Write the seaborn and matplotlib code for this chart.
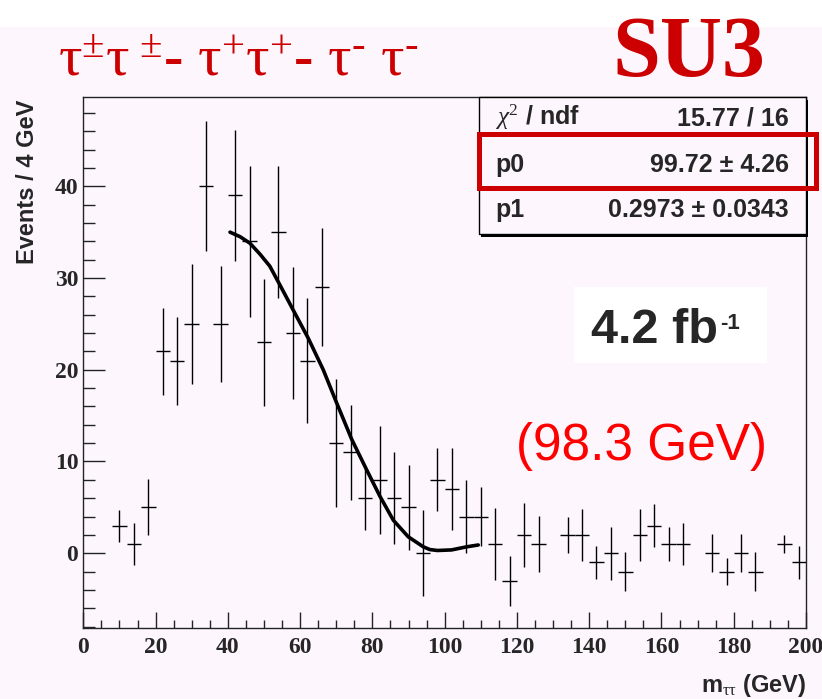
import numpy as np
import pandas as pd
import matplotlib
matplotlib.use("Agg")
import matplotlib.pyplot as plt
from matplotlib.patches import Rectangle
from matplotlib.text import Annotation
import seaborn as sns

# Binned di-tau invariant mass, 4 GeV bins (bin centres), with errors
bin_centers = [10, 14, 18, 22, 26, 30, 34, 38, 42, 46, 50, 54, 58, 62, 66, 70,
               74, 78, 82, 86, 90, 94, 98, 102, 106, 110, 114, 118, 122, 126,
               134, 138, 142, 146, 150, 154, 158, 162, 166, 174, 178, 182, 186,
               194, 198]
counts = [3, 1, 5, 22, 21, 25, 40, 25, 39, 34, 23, 35, 24, 21, 29, 12,
          11, 6, 8, 6, 5, 0, 8, 7, 4, 4, 1, -3, 2, 1,
          2, 2, -1, 0, -2, 2, 3, 1, 1, 0, -2, 0, -2,
          1, -1]
errors = [1.73, 2.3, 3.05, 4.7, 4.8, 6.5, 7.1, 6.3, 7.1, 8.2, 6.9, 7.2, 7.2, 6.8, 6.4, 7.0,
          5.2, 3.5, 5.9, 5.0, 4.6, 4.7, 3.45, 4.45, 4.0, 3.2, 3.9, 2.7, 3.45, 3.1,
          2.0, 2.85, 1.8, 2.9, 2.1, 2.85, 2.36, 1.87, 2.3, 2.1, 1.5, 2.1, 2.1,
          1.0, 1.8]
bin_half_width = 2.0

# Fitted endpoint curve
fit_x = [40.6, 43.4, 46.1, 48.9, 51.6, 54.2, 58.1, 62.3, 66.4, 70.1, 74.3,
         78.4, 82.1, 85.8, 89.9, 94.1, 95.9, 98.0, 101.9, 106.1, 109.3]
fit_y = [35.0, 34.5, 33.8, 32.6, 31.3, 29.4, 26.5, 23.4, 20.0, 16.4, 12.4,
         9.1, 6.2, 3.6, 1.8, 0.7, 0.4, 0.3, 0.36, 0.7, 0.9]

stat_labels = [r"$\chi^{2}$ / ndf", "p0", "p1"]
stat_values = ["15.77 / 16", "99.72 \u00b1 4.26", "0.2973 \u00b1 0.0343"]

x_ticks = list(range(0, 201, 20))
y_ticks = [0, 10, 20, 30, 40]

W, H = 822, 699
BG = "#fdf7fd"


def fx(px):
    return px / W


def fy(py):
    return 1 - py / H


sns.set_style("ticks")
plt.rcParams.update({
    "mathtext.fontset": "custom",
    "mathtext.rm": "Liberation Serif",
    "mathtext.it": "Liberation Serif:italic",
    "mathtext.bf": "Liberation Serif:bold",
    "mathtext.sf": "Liberation Sans:bold",
    "axes.edgecolor": "#222222",
    "axes.linewidth": 1.0,
})

fig = plt.figure(figsize=(W / 100, H / 100), dpi=100)
fig.patch.set_facecolor(BG)
fig.patches.append(Rectangle((0, fy(27)), 1, 27 / H, transform=fig.transFigure,
                             facecolor="white", edgecolor="none", zorder=0))

ax = fig.add_axes([fx(83.3), fy(628), (806 - 83.3) / W, (628 - 97.3) / H])
ax.set_facecolor(BG)

df = pd.DataFrame({"m": bin_centers, "n": counts, "err": errors})
fit_df = pd.DataFrame({"m": fit_x, "f": fit_y})

ax.errorbar(df["m"], df["n"], yerr=df["err"], xerr=bin_half_width, fmt="none",
            ecolor="black", elinewidth=1.0, capsize=0, zorder=3)
sns.lineplot(data=fit_df, x="m", y="f", sort=False, estimator=None, ax=ax,
             color="black", linewidth=2.6, zorder=4)

ax.set_xlim(0, 200)
ax.set_ylim(-8.15, 49.7)
ax.set_xticks(x_ticks)
ax.set_xticks(np.arange(0, 201, 5), minor=True)
ax.set_yticks(y_ticks)
ax.set_yticks(np.arange(-8, 50, 2), minor=True)
ax.set_xlabel("")
ax.set_ylabel("")
for side in ("top", "right", "left", "bottom"):
    ax.spines[side].set_visible(True)
ax.tick_params(axis="both", which="both", direction="in", width=1.0, color="#222222")
ax.tick_params(axis="y", which="major", length=15.6, pad=3.6)
ax.tick_params(axis="y", which="minor", length=8.4)
ax.tick_params(axis="x", which="major", length=11.5, pad=6.5)
ax.tick_params(axis="x", which="minor", length=5.5)
for lab in ax.get_xticklabels() + ax.get_yticklabels():
    lab.set_family("Liberation Serif")
    lab.set_fontweight("bold")
    lab.set_fontsize(17)

# Axis titles
fig.text(fx(27), fy(100), "Events / 4 GeV", rotation=90, ha="center", va="top",
         family="Liberation Sans", fontweight="bold", fontsize=17)
fig.text(fx(806), fy(692), r"m$_{\mathrm{ττ}}$ (GeV)", ha="right", va="baseline",
         family="Liberation Sans", fontweight="bold", fontsize=17)

# Fit statistics box with shadow
fig.patches.append(Rectangle((fx(481), fy(236.5)), (806 - 479) / W, (234 - 97.3) / H,
                             transform=fig.transFigure, facecolor="black",
                             edgecolor="none", zorder=5))
fig.patches.append(Rectangle((fx(479), fy(234)), (806 - 479) / W, (234 - 97.3) / H,
                             transform=fig.transFigure, facecolor=BG,
                             edgecolor="black", linewidth=1.0, zorder=6))
for lab, val, base in zip(stat_labels, stat_values, [125, 171.7, 216.7]):
    fig.text(fx(495), fy(base), lab, ha="left", va="baseline", family="Liberation Sans",
             fontweight="bold", fontsize=18, zorder=7)
    fig.text(fx(788.5), fy(base), val, ha="right", va="baseline", family="Liberation Sans",
             fontweight="bold", fontsize=18, zorder=7)
fig.patches.append(Rectangle((fx(479.3), fy(187.5)), (816 - 479.3) / W, (187.5 - 134.2) / H,
                             transform=fig.transFigure, facecolor="none",
                             edgecolor="#cc0000", linewidth=3.6, zorder=8))

# Luminosity and mass annotations
fig.patches.append(Rectangle((fx(574), fy(363)), (767 - 574) / W, (363 - 287) / H,
                             transform=fig.transFigure, facecolor="white",
                             edgecolor="none", zorder=5))
lumi = fig.text(fx(591), fy(343), "4.2 fb", ha="left", va="baseline",
                family="Liberation Sans", fontweight="bold", fontsize=35, zorder=7)
lumi_exp = Annotation("-1", xy=(1, 1), xycoords=lumi, xytext=(1.5, -3.5),
                      textcoords="offset points", ha="left", va="top",
                      family="Liberation Sans", fontweight="bold", fontsize=16,
                      annotation_clip=False)
lumi_exp.set_zorder(7)
fig.add_artist(lumi_exp)
fig.text(fx(516), fy(460), "(98.3 GeV)", ha="left", va="baseline",
         family="Liberation Sans", fontsize=37, color="#ff0000", zorder=7)

# Channel title and sample name
title = (r"$\mathrm{τ^{±}τ^{\ ±}}$- $\mathrm{τ^{+}τ^{+}}$- "
         r"$\mathrm{τ^{\text{-}}\ τ^{\text{-}}}$")
fig.text(fx(58), fy(76), title, ha="left", va="baseline", family="Liberation Serif",
         fontweight="bold", fontsize=42, color="#cc0000")
fig.text(fx(612), fy(76), "SU3", ha="left", va="baseline", family="Liberation Serif",
         fontweight="bold", fontsize=62, color="#cc0000")

fig.savefig("out.png", dpi=100, facecolor=fig.get_facecolor())
